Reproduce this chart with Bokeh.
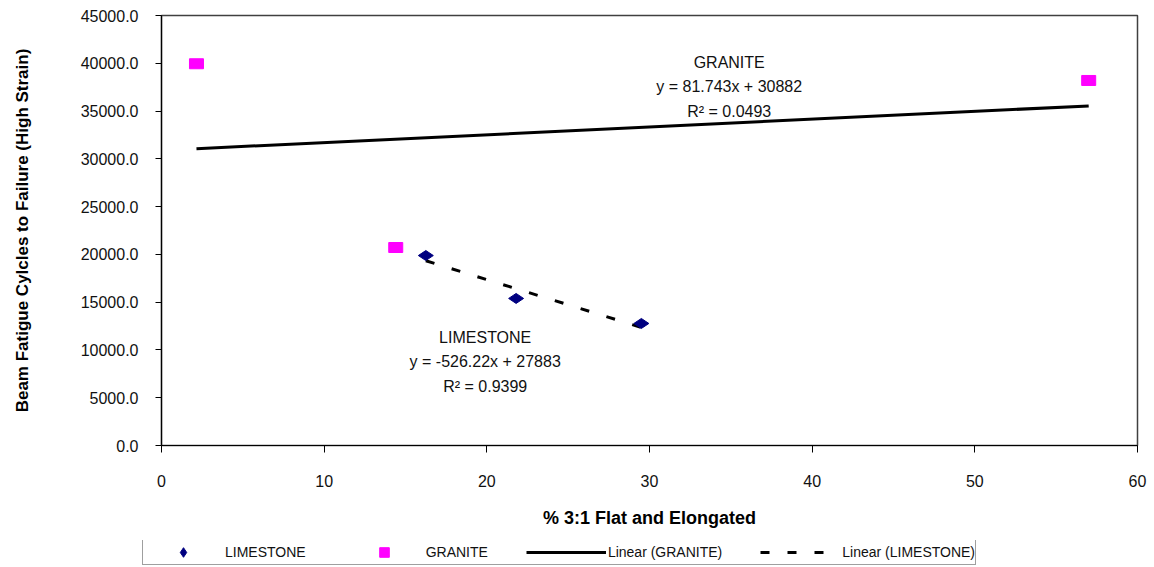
import math
from bokeh.plotting import figure
from bokeh.layouts import column, row
from bokeh.models import (Range1d, Legend, LegendItem, SingleIntervalTicker,
                          NumeralTickFormatter)
from bokeh.core.properties import value
from bokeh.embed import file_html
from bokeh.resources import INLINE

# ---- data ----
limestone_x = [16.25, 21.8, 29.5]
limestone_y = [19880, 15390, 12770]
granite_x = [2.15, 14.4, 57.0]
granite_y = [39950, 20720, 38200]

granite_slope, granite_intercept = 81.743, 30882
limestone_slope, limestone_intercept = -526.22, 27883

granite_labels = ["GRANITE", "y = 81.743x + 30882", "R² = 0.0493"]
limestone_labels = ["LIMESTONE", "y = -526.22x + 27883", "R² = 0.9399"]
granite_label_x = [34.9, 34.9, 34.9]
granite_label_y = [40080, 37570, 34950]
limestone_label_x = [19.9, 19.9, 19.9]
limestone_label_y = [11300, 8790, 6170]

legend_labels = ["LIMESTONE", "GRANITE", "Linear (GRANITE)", "Linear (LIMESTONE)"]

x_title = "% 3:1 Flat and Elongated"
y_title = "Beam Fatigue Cylcles to Failure (High Strain)"

FONT = "Liberation Sans"
NAVY = "#000080"
MAGENTA = "#FF00FF"

p = figure(width=1154, height=540, output_backend="svg", toolbar_location=None,
           x_range=Range1d(0, 60), y_range=Range1d(0, 45000),
           min_border_left=161, min_border_right=17, min_border_top=15,
           min_border_bottom=95)
p.grid.visible = False
p.outline_line_color = "#404040"
p.outline_line_width = 1.5
p.background_fill_color = "white"
p.border_fill_color = "white"

# axes
p.xaxis.ticker = SingleIntervalTicker(interval=10)
p.yaxis.ticker = SingleIntervalTicker(interval=5000)
p.yaxis.formatter = NumeralTickFormatter(format="0.0")
for ax in (p.xaxis[0], p.yaxis[0]):
    ax.axis_line_color = "black"
    ax.axis_line_width = 1.2
    ax.major_tick_line_color = "black"
    ax.minor_tick_line_color = None
    ax.major_tick_in = 0
    ax.major_label_text_font = FONT
    ax.major_label_text_font_size = "16px"
    ax.major_label_text_color = "#111111"
    ax.axis_label_text_font = FONT
    ax.axis_label_text_font_style = "bold"
    ax.axis_label_text_color = "black"
p.xaxis.major_tick_out = 7
p.yaxis.major_tick_out = 6
p.xaxis.major_label_standoff = 22
p.yaxis.major_label_standoff = 17
p.xaxis.axis_label = x_title
p.yaxis.axis_label = y_title
p.xaxis.axis_label_text_font_size = "18px"
p.yaxis.axis_label_text_font_size = "17px"
p.xaxis.axis_label_standoff = 18
p.yaxis.axis_label_standoff = 46

# trendlines
gx = [min(granite_x), max(granite_x)]
gy = [granite_slope * v + granite_intercept for v in gx]
lx = [min(limestone_x), max(limestone_x)]
ly = [limestone_slope * v + limestone_intercept for v in lx]
p.line(gx, gy, line_color="black", line_width=3)
p.line(lx, ly, line_color="black", line_width=3, line_dash="9 18")

# points
p.scatter(limestone_x, limestone_y, marker="diamond", size=15,
          angle=math.pi / 2, fill_color=NAVY, line_color=NAVY)
p.rect(granite_x, granite_y, width=14, height=10, width_units="screen",
       height_units="screen", fill_color=MAGENTA, line_color=MAGENTA)

# annotations
for xs, ys, ts in ((granite_label_x, granite_label_y, granite_labels),
                   (limestone_label_x, limestone_label_y, limestone_labels)):
    p.text(x=xs, y=ys, text=ts, text_font=value(FONT), text_font_size="16px",
           text_align="center", text_baseline="middle", text_color="#111111")

# ---- legend strip (separate figure below the chart) ----
q = figure(width=1154, height=27, output_backend="svg", toolbar_location=None,
           x_axis_type=None, y_axis_type=None,
           x_range=Range1d(0, 60), y_range=Range1d(0, 45000),
           min_border=0, min_border_left=0, min_border_right=0,
           min_border_top=0, min_border_bottom=0)
q.grid.visible = False
q.outline_line_color = None
q.background_fill_color = "white"
q.border_fill_color = "white"
lr_lime = q.scatter(limestone_x, limestone_y, marker="diamond", size=15,
                    fill_color=NAVY, line_color=NAVY, visible=False)
lr_gran = q.scatter(granite_x, granite_y, marker="square", size=12,
                    fill_color=MAGENTA, line_color=MAGENTA, visible=False)
lr_gline = q.line(gx, gy, line_color="black", line_width=3, visible=False)
lr_lline = q.line(lx, ly, line_color="black", line_width=3, line_dash="9 18",
                  visible=False)

legend = Legend(items=[
    LegendItem(label=legend_labels[0], renderers=[lr_lime]),
    LegendItem(label=legend_labels[1], renderers=[lr_gran]),
    LegendItem(label=legend_labels[2], renderers=[lr_gline]),
    LegendItem(label=legend_labels[3], renderers=[lr_lline]),
], orientation="horizontal", location=(142, 2), margin=0, padding=0,
    spacing=38, glyph_width=80, glyph_height=24, label_height=24,
    label_standoff=2, label_text_font=FONT, label_text_font_size="14px",
    label_text_color="#111111", border_line_color="#404040",
    border_line_width=1.5, background_fill_color="white",
    background_fill_alpha=1.0)
q.add_layout(legend)

layout = column(p, row(q, spacing=0), spacing=0)
open("out.html", "w").write(file_html(layout, INLINE))
